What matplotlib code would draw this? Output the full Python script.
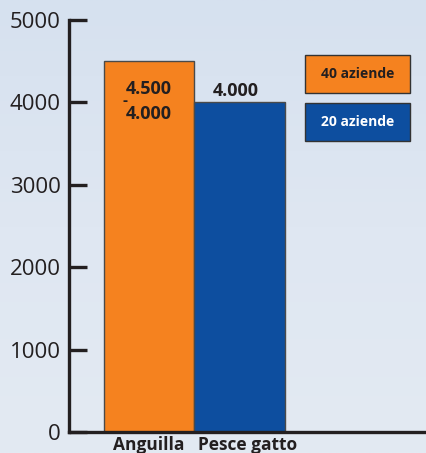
import matplotlib
matplotlib.use("Agg")
import matplotlib.pyplot as plt
from matplotlib.patches import Rectangle
from matplotlib.colors import LinearSegmentedColormap
import matplotlib.transforms as mtransforms
import numpy as np

categories = ["Anguilla", "Pesce gatto"]
values = [4500, 4000]
bar_texts = [["4.500", "-", "4.000"], ["4.000"]]
legend_labels = ["40 aziende", "20 aziende"]
yticks = [0, 1000, 2000, 3000, 4000, 5000]

orange = "#f5821f"
blue = "#0d4e9f"
bg = "#dae4f1"
dark = "#231f20"

plt.rcParams['font.family'] = ['Open Sans', 'DejaVu Sans']

fig = plt.figure(figsize=(4.26, 4.53), dpi=100)
fig.patch.set_facecolor(bg)
grad = np.linspace(0, 1, 256).reshape(-1, 1)
bax = fig.add_axes([0, 0, 1, 1], zorder=-10)
cm = LinearSegmentedColormap.from_list("bgc", ["#d6e1ef", "#dfe7f2", "#e3eaf3"])
bax.imshow(grad, aspect='auto', cmap=cm, extent=[0, 1, 0, 1])
bax.axis('off')

ax = fig.add_axes([69/426, 1 - 432/453, 1 - 69/426, 412/453])
ax.patch.set_alpha(0)
x = np.arange(len(categories))
cols = [orange, blue]
ax.bar(x, values, width=1.0, color=cols, edgecolor="#4a4a4a", linewidth=1.0, zorder=2)
ax.set_xlim(-0.884, -0.884 + 357/90.5)
ax.set_ylim(0, 5000)

for s in ["top", "right"]:
    ax.spines[s].set_visible(False)
for s in ["left", "bottom"]:
    ax.spines[s].set_linewidth(2.4)
    ax.spines[s].set_color(dark)

ax.set_yticks(yticks)
ax.set_yticklabels([str(v) for v in yticks], fontsize=16, color=dark)
ax.tick_params(axis='y', direction='in', length=13, width=2.4, color=dark, pad=6)
ax.set_xticks(x)
ax.set_xticklabels(categories, fontsize=12.5, fontweight='bold', color=dark)
ax.tick_params(axis='x', length=0, pad=3)
lbls = ax.get_xticklabels()
lbls[1].set_transform(lbls[1].get_transform() + mtransforms.ScaledTranslation(0.08, 0, fig.dpi_scale_trans))

fs = 13
ax.annotate(bar_texts[0][0], (x[0], values[0]), xytext=(0, -13.5), textcoords='offset points',
            ha='center', va='top', fontsize=fs, fontweight='bold', color=dark)
ax.annotate(bar_texts[0][1], (x[0], values[0]), xytext=(-19, -31.5), textcoords='offset points',
            ha='left', va='baseline', fontsize=11, fontweight='bold', color=dark)
ax.annotate(bar_texts[0][2], (x[0], values[0]), xytext=(0, -31.5), textcoords='offset points',
            ha='center', va='top', fontsize=fs, fontweight='bold', color=dark)
ax.annotate(bar_texts[1][0], (x[1], values[1]), xytext=(-3, 1.5), textcoords='offset points',
            ha='center', va='bottom', fontsize=fs, fontweight='bold', color=dark)

W, H = 426, 453
boxes = [(305, 55, 105, 38), (305, 103, 105, 38)]
txtcols = [dark, "white"]
for (bx, by, bw, bh), c, lab, tc in zip(boxes, cols, legend_labels, txtcols):
    fig.patches.append(Rectangle((bx/W, 1 - (by+bh)/H), bw/W, bh/H, transform=fig.transFigure,
                                 facecolor=c, edgecolor="#333333", linewidth=1.0))
    fig.text((bx + bw/2)/W, 1 - (by + bh/2)/H, lab, ha='center', va='center',
             fontsize=10, fontweight='bold', color=tc)

fig.savefig("out.png", dpi=100, facecolor=fig.get_facecolor())
